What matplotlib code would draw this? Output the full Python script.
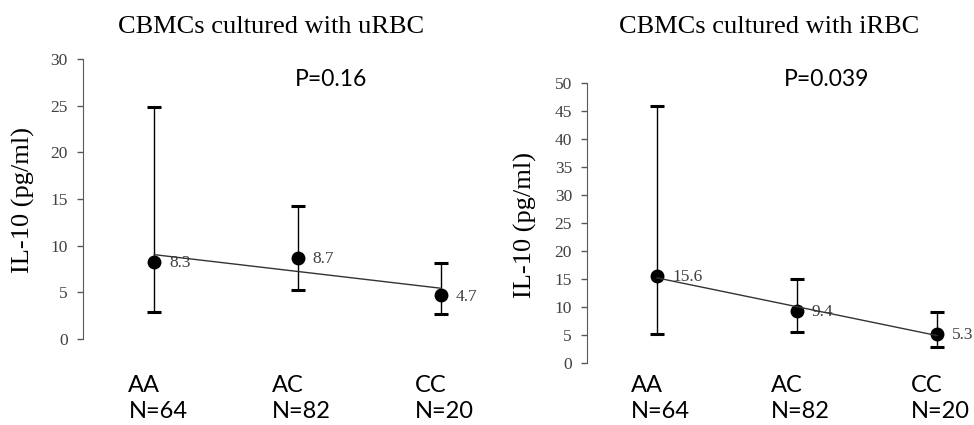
import numpy as np
import matplotlib.pyplot as plt

# genotype groups
groups = ['AA', 'AC', 'CC']
group_n = ['N=64', 'N=82', 'N=20']

# IL-10 (pg/ml), CBMCs cultured with uRBC
urbc_mean = [8.3, 8.7, 4.7]
urbc_low = [2.9, 5.2, 2.7]
urbc_high = [24.9, 14.2, 8.1]

# IL-10 (pg/ml), CBMCs cultured with iRBC
irbc_mean = [15.6, 9.4, 5.3]
irbc_low = [5.2, 5.6, 2.9]
irbc_high = [45.9, 15.1, 9.2]

serif = 'Liberation Serif'
sans = 'Lato'
grey = '#404040'

fig = plt.figure(figsize=(9.74, 4.25), dpi=100)


def panel(rect, xlim, ymax, mean, low, high, lab_y):
    ax = fig.add_axes(rect)
    x = np.arange(len(groups))
    mean = np.array(mean)
    err = [mean - np.array(low), np.array(high) - mean]
    ax.errorbar(x, mean, yerr=err, fmt='o', color='black', ms=9,
                elinewidth=1.0, capsize=4.7, capthick=2.2, zorder=3)
    # linear trendline through the means
    k, b = np.polyfit(x, mean, 1)
    ax.plot(x, k * x + b, color='#333333', lw=1.0, zorder=4)
    for xi, m in zip(x, mean):
        ax.annotate(f'{m:.1f}', (xi, m), xytext=(10.8, -1), textcoords='offset points',
                    ha='left', va='center', fontsize=12.5, family=serif, color=grey)
    for xi, g, n in zip(x, groups, group_n):
        ax.annotate(g, (xi, lab_y[0]), xycoords=('data', 'figure pixels'),
                    xytext=(-18.7, 0), textcoords='offset points',
                    ha='left', va='center', fontsize=17, family=sans, color='black',
                    annotation_clip=False)
        ax.annotate(n, (xi, lab_y[1]), xycoords=('data', 'figure pixels'),
                    xytext=(-18.7, 0), textcoords='offset points',
                    ha='left', va='center', fontsize=17, family=sans, color='black',
                    annotation_clip=False)
    ax.set_xlim(*xlim)
    ax.set_ylim(0, ymax)
    ax.set_yticks(np.arange(0, ymax + 1, 5))
    for s in ['top', 'right', 'bottom']:
        ax.spines[s].set_visible(False)
    ax.spines['left'].set_color('#595959')
    ax.set_xticks([])
    ax.tick_params(axis='y', direction='out', length=4.3, width=1, color='#595959',
                   labelcolor=grey, labelsize=12.5, pad=6.5)
    for t in ax.get_yticklabels():
        t.set_family(serif)
    return ax


ax1 = panel([82.7 / 974, 0.2024, 430 / 974, 280 / 425], (-0.5, 2.5), 30,
            urbc_mean, urbc_low, urbc_high, (40, 14))
ax2 = panel([587 / 974, 0.1452, 386.4 / 974, 280 / 425], (-0.5, 2.26), 50,
            irbc_mean, irbc_low, irbc_high, (40, 14))

fig.text(271 / 974, 1 - 27 / 425, 'CBMCs cultured with uRBC', ha='center', va='center',
         fontsize=19, family=serif)
fig.text(769 / 974, 1 - 27 / 425, 'CBMCs cultured with iRBC', ha='center', va='center',
         fontsize=19, family=serif)
fig.text(331 / 974, 1 - 80 / 425, 'P=0.16', ha='center', va='center', fontsize=16.5,
         family=sans)
fig.text(827 / 974, 1 - 80 / 425, 'P=0.039', ha='center', va='center', fontsize=16.5,
         family=sans)
fig.text(23 / 974, 1 - 200 / 425, 'IL-10 (pg/ml)', rotation=90, ha='center', va='center',
         fontsize=19, family=serif)
fig.text(525 / 974, 1 - 225 / 425, 'IL-10 (pg/ml)', rotation=90, ha='center', va='center',
         fontsize=19, family=serif)

fig.savefig('out.png', dpi=100)
